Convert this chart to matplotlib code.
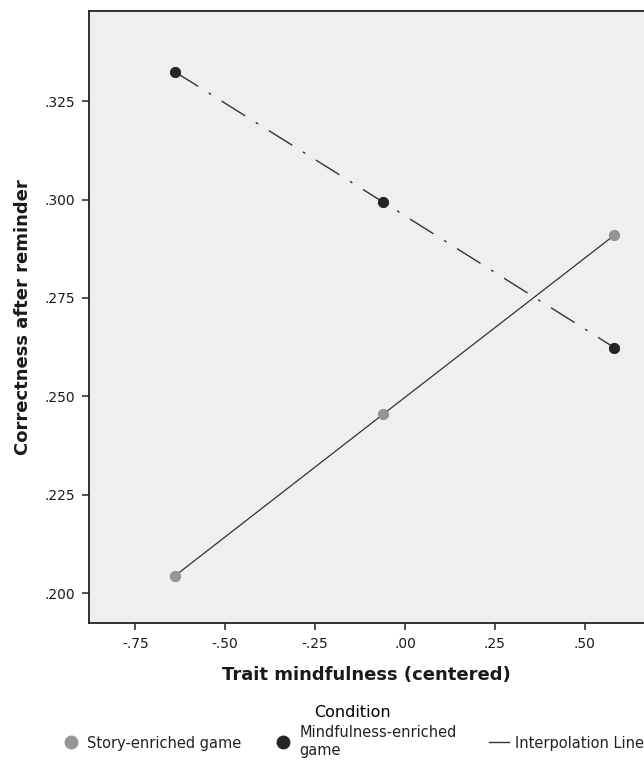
import numpy as np
import matplotlib
matplotlib.use("Agg")
import matplotlib.pyplot as plt
from matplotlib.lines import Line2D
from matplotlib.ticker import FuncFormatter

# predicted correctness at low / mean / high trait mindfulness
mindfulness = [-0.641, -0.06, 0.582]
story_game = [0.2043, 0.2455, 0.2909]
mind_game = [0.3325, 0.2993, 0.2624]

x_ticks = [-0.75, -0.50, -0.25, 0.00, 0.25, 0.50]
y_ticks = [0.200, 0.225, 0.250, 0.275, 0.300, 0.325]

bg = "#efefef"
story_col = "#969696"
mind_col = "#262626"
line_col = "#333333"


def no_lead_zero(fmt):
    def f(v, pos):
        s = fmt.format(v)
        return s.replace("0.", ".", 1) if s.startswith(("0.", "-0.")) else s
    return FuncFormatter(f)


fig = plt.figure(figsize=(6.44, 7.67), dpi=100)
fig.patch.set_facecolor("white")
ax = fig.add_axes([89 / 644, 1 - 623 / 767, 1 - 89 / 644, (623 - 11) / 767])
ax.set_facecolor(bg)

ax.plot(mindfulness, story_game, color=line_col, lw=0.9, zorder=2)
ax.plot(mindfulness, mind_game, color=line_col, lw=1.0,
        dashes=(20, 9, 2, 9), zorder=2)
ax.scatter(mindfulness, story_game, s=55, color=story_col,
           edgecolor="#8a8a8a", lw=0.6, zorder=3)
ax.scatter(mindfulness, mind_game, s=55, color=mind_col,
           edgecolor="#1a1a1a", lw=0.6, zorder=3)

ax.set_xlim(-0.879, 0.665)
ax.set_ylim(0.1924, 0.3479)
ax.set_xticks(x_ticks)
ax.set_yticks(y_ticks)
ax.xaxis.set_major_formatter(no_lead_zero("{:.2f}"))
ax.yaxis.set_major_formatter(no_lead_zero("{:.3f}"))
ax.tick_params(direction="out", length=5, width=1.1, color="#222222",
               labelsize=10, labelcolor="#1a1a1a", pad=5)

for side in ("left", "bottom", "top"):
    ax.spines[side].set_color("#222222")
    ax.spines[side].set_linewidth(1.3)
ax.spines["right"].set_visible(False)

ax.set_xlabel("Trait mindfulness (centered)", fontsize=13, fontweight="bold",
              color="#1a1a1a", labelpad=11)
ax.set_ylabel("Correctness after reminder", fontsize=13, fontweight="bold",
              color="#1a1a1a", labelpad=9)

handles = [
    Line2D([], [], ls="none", marker="o", ms=9, color=story_col),
    Line2D([], [], ls="none", marker="o", ms=9, color=mind_col),
    Line2D([], [], color=line_col, lw=1.0),
]
labels = ["Story-enriched game", "Mindfulness-enriched\ngame", "Interpolation Line"]
leg = fig.legend(handles, labels, loc="upper center", ncol=3,
                 bbox_to_anchor=(0.547, 1 - 696 / 767), frameon=False,
                 fontsize=10.5, title="Condition", title_fontsize=11.5,
                 handlelength=1.4, handletextpad=0.4, columnspacing=2.2,
                 borderaxespad=0.2)
leg._legend_box.sep = 4
for t in leg.get_texts():
    t.set_color("#222222")

fig.savefig("out.png", dpi=100, facecolor="white")
